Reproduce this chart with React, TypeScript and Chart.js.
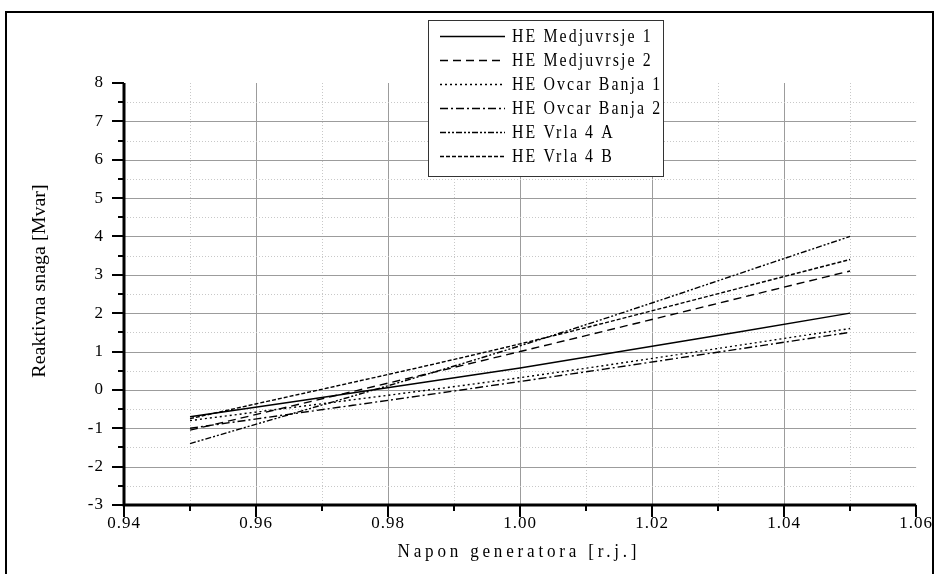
import React, { useEffect, useRef } from "react";
import { Chart, registerables } from "chart.js";

Chart.register(...registerables);

// ---------- data ----------
const xValues = [0.95, 1.0, 1.05];
const seriesNames = [
  "HE Medjuvrsje 1",
  "HE Medjuvrsje 2",
  "HE Ovcar Banja 1",
  "HE Ovcar Banja 2",
  "HE Vrla 4 A",
  "HE Vrla 4 B",
];
const medjuvrsje1 = [-0.7, 0.57, 2.0];
const medjuvrsje2 = [-1.05, 1.0, 3.1];
const ovcarBanja1 = [-0.8, 0.32, 1.6];
const ovcarBanja2 = [-1.0, 0.22, 1.5];
const vrla4A = [-1.4, 1.15, 4.0];
const vrla4B = [-0.75, 1.2, 3.4];
const seriesValues = [medjuvrsje1, medjuvrsje2, ovcarBanja1, ovcarBanja2, vrla4A, vrla4B];

const xAxisTitle = "Napon generatora [r.j.]";
const yAxisTitle = "Reaktivna snaga [Mvar]";
const xMin = 0.94;
const xMax = 1.06;
const xMajorStep = 0.02;
const yMin = -3;
const yMax = 8;
const yMajorStep = 1;

// ---------- styles ----------
const dashPatterns: number[][] = [[], [8, 5], [2, 3], [8, 3, 2, 3], [6, 2, 2, 2, 2, 2], [4, 2]];
const SERIF = "'Liberation Serif', 'Times New Roman', serif";

function drawSpaced(
  ctx: CanvasRenderingContext2D,
  text: string,
  x: number,
  y: number,
  size: number,
  spacing: number,
  condense: number,
  align: "left" | "center"
) {
  ctx.save();
  ctx.font = `${size}px ${SERIF}`;
  (ctx as any).letterSpacing = `${spacing}px`;
  ctx.textBaseline = "middle";
  ctx.textAlign = "left";
  ctx.fillStyle = "#000";
  ctx.translate(x, y);
  ctx.scale(condense, 1);
  let x0 = 0;
  if (align === "center") {
    const w = ctx.measureText(text).width - spacing;
    x0 = -w / 2;
  }
  ctx.fillText(text, x0, 0);
  ctx.restore();
}

const gridPlugin = {
  id: "customGrid",
  beforeDraw(chart: any) {
    (chart.ctx as any).letterSpacing = "1px";
  },
  beforeDatasetsDraw(chart: any) {
    const { ctx, chartArea: a, scales } = chart;
    const x = scales.x;
    const y = scales.y;
    ctx.save();
    (ctx as any).letterSpacing = "0px";
    ctx.lineWidth = 1;
    const nx = Math.round((xMax - xMin) / (xMajorStep / 2));
    for (let i = 1; i < nx; i++) {
      const v = xMin + (i * xMajorStep) / 2;
      const px = Math.round(x.getPixelForValue(v)) + 0.5;
      const major = i % 2 === 0;
      ctx.strokeStyle = major ? "#9c9c9c" : "#c8c8c8";
      ctx.setLineDash(major ? [] : [1, 2]);
      ctx.beginPath();
      ctx.moveTo(px, a.top);
      ctx.lineTo(px, a.bottom);
      ctx.stroke();
    }
    const ny = Math.round((yMax - yMin) / (yMajorStep / 2));
    for (let j = 1; j < ny; j++) {
      const v = yMin + (j * yMajorStep) / 2;
      const py = Math.round(y.getPixelForValue(v)) + 0.5;
      const major = j % 2 === 0;
      ctx.strokeStyle = major ? "#9c9c9c" : "#c8c8c8";
      ctx.setLineDash(major ? [] : [1, 2]);
      ctx.beginPath();
      ctx.moveTo(a.left, py);
      ctx.lineTo(a.right, py);
      ctx.stroke();
    }
    ctx.restore();
  },
  afterDatasetsDraw(chart: any) {
    const { ctx, chartArea: a, scales } = chart;
    const x = scales.x;
    const y = scales.y;
    ctx.save();
    ctx.strokeStyle = "#000";
    ctx.setLineDash([]);
    ctx.lineWidth = 2;
    const nx = Math.round((xMax - xMin) / (xMajorStep / 2));
    for (let i = 0; i <= nx; i++) {
      const v = xMin + (i * xMajorStep) / 2;
      const px = Math.round(x.getPixelForValue(v));
      const len = i % 2 === 0 ? 12 : 6;
      ctx.beginPath();
      ctx.moveTo(px, a.bottom);
      ctx.lineTo(px, a.bottom + len);
      ctx.stroke();
    }
    const ny = Math.round((yMax - yMin) / (yMajorStep / 2));
    for (let j = 0; j <= ny; j++) {
      const v = yMin + (j * yMajorStep) / 2;
      const py = Math.round(y.getPixelForValue(v));
      const len = j % 2 === 0 ? 12 : 6;
      ctx.beginPath();
      ctx.moveTo(a.left, py);
      ctx.lineTo(a.left - len, py);
      ctx.stroke();
    }
    ctx.lineWidth = 3;
    ctx.beginPath();
    ctx.moveTo(a.left, a.top);
    ctx.lineTo(a.left, a.bottom + 1.5);
    ctx.moveTo(a.left - 1.5, a.bottom);
    ctx.lineTo(a.right, a.bottom);
    ctx.stroke();
    ctx.restore();
  },
  afterDraw(chart: any) {
    const { ctx, chartArea: a } = chart;
    ctx.save();
    (ctx as any).letterSpacing = "0px";
    ctx.strokeStyle = "#000";
    ctx.lineWidth = 2;
    ctx.setLineDash([]);
    ctx.strokeRect(6, 12, 927, 620);

    // legend
    const bx = 428.5, by = 20.5, bw = 235, bh = 156;
    ctx.fillStyle = "#fff";
    ctx.fillRect(bx, by, bw, bh);
    ctx.strokeStyle = "#333";
    ctx.lineWidth = 1;
    ctx.strokeRect(bx, by, bw, bh);
    chart.data.datasets.forEach((ds: any, i: number) => {
      const ry = Math.round(36 + 24 * i) + 0.5;
      ctx.save();
      ctx.strokeStyle = "#000";
      ctx.lineWidth = 1.4;
      ctx.setLineDash(ds.borderDash || []);
      ctx.beginPath();
      ctx.moveTo(440, ry);
      ctx.lineTo(505, ry);
      ctx.stroke();
      ctx.restore();
      drawSpaced(ctx, ds.label, 512, ry + 1, 18, 2.4, 0.88, "left");
    });

    // axis titles
    drawSpaced(ctx, xAxisTitle, (a.left + a.right) / 2 - 3, 552, 19, 4.2, 0.9, "center");

    ctx.save();
    ctx.translate(40, 281);
    ctx.rotate(-Math.PI / 2);
    ctx.scale(1, 0.92);
    ctx.font = `20px ${SERIF}`;
    ctx.fillStyle = "#000";
    ctx.textAlign = "center";
    ctx.textBaseline = "middle";
    ctx.fillText(yAxisTitle, 0, 0);
    ctx.restore();

    ctx.restore();
  },
};

export default function App() {
  const canvasRef = useRef<HTMLCanvasElement | null>(null);

  useEffect(() => {
    const canvas = canvasRef.current;
    if (!canvas) return;
    const datasets = seriesNames.map((name, i) => ({
      label: name,
      data: xValues.map((xv, k) => ({ x: xv, y: seriesValues[i][k] })),
      borderColor: "#000",
      backgroundColor: "#000",
      borderWidth: 1.4,
      borderDash: dashPatterns[i],
      pointRadius: 0,
      fill: false,
      cubicInterpolationMode: "monotone" as const,
    }));
    const tickFont = { family: SERIF, size: 17 };
    const chart = new Chart(canvas, {
      type: "line",
      data: { datasets },
      options: {
        responsive: false,
        animation: false,
        devicePixelRatio: 1,
        layout: { padding: { left: 0, top: 83, right: 21, bottom: 29 }, autoPadding: false } as any,
        plugins: { legend: { display: false }, tooltip: { enabled: false } },
        scales: {
          x: {
            type: "linear",
            min: xMin,
            max: xMax,
            afterFit: (s: any) => {
              s.height = 40;
            },
            grid: { display: false, drawTicks: false, tickLength: 0 },
            border: { display: false },
            ticks: {
              stepSize: xMajorStep,
              padding: 8,
              color: "#000",
              font: tickFont,
              autoSkip: false,
              maxRotation: 0,
              callback: (v: any) => Number(v).toFixed(2),
            },
          },
          y: {
            type: "linear",
            min: yMin,
            max: yMax,
            afterFit: (s: any) => {
              s.width = 124;
            },
            grid: { display: false, drawTicks: false, tickLength: 0 },
            border: { display: false },
            ticks: {
              stepSize: yMajorStep,
              padding: 20,
              color: "#000",
              font: tickFont,
              autoSkip: false,
              callback: (v: any) => String(Math.round(Number(v))),
            },
          },
        },
      },
      plugins: [gridPlugin],
    });
    return () => chart.destroy();
  }, []);

  return (
    <div style={{ position: "fixed", left: 0, top: 0, width: 939, height: 574, background: "#fff" }}>
      <canvas ref={canvasRef} width={939} height={574} style={{ display: "block", width: 939, height: 574 }} />
    </div>
  );
}
